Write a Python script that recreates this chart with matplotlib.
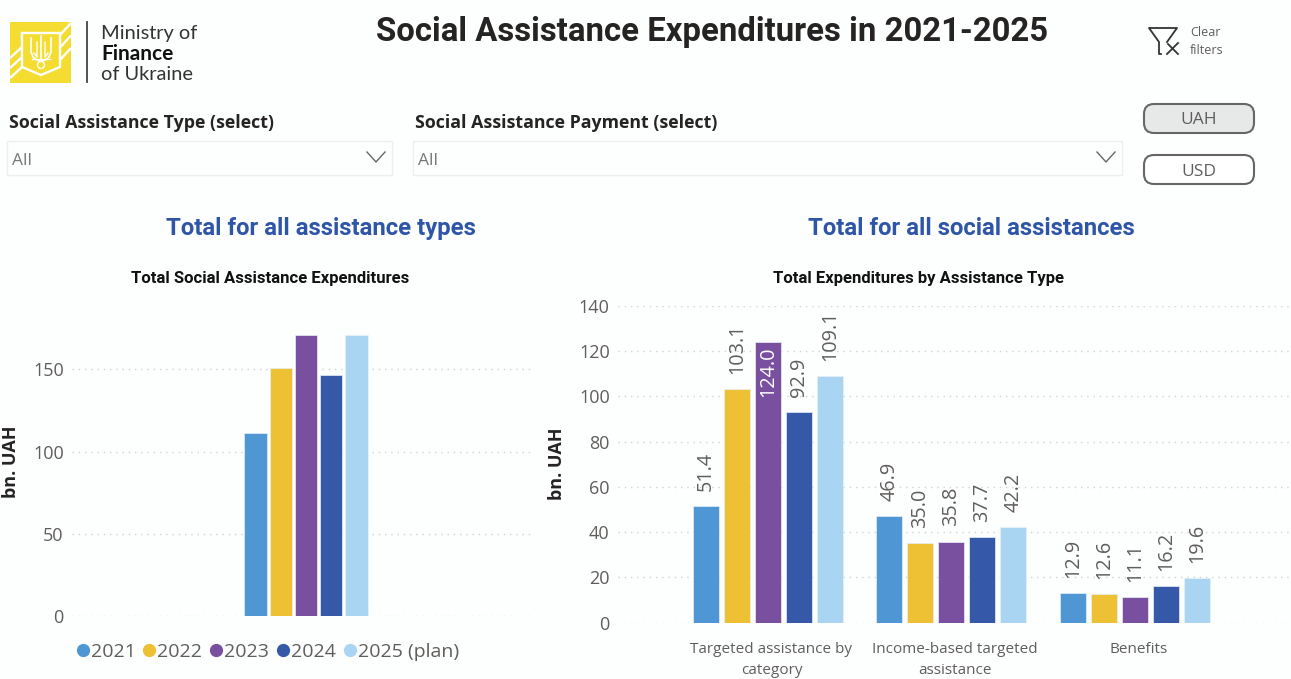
import matplotlib
matplotlib.use('Agg')
import matplotlib.pyplot as plt
from matplotlib.lines import Line2D
from matplotlib.patches import Circle, FancyBboxPatch, Polygon, Rectangle

W, H = 1291, 679

years = ['2021', '2022', '2023', '2024', '2025 (plan)']
colors = ['#4E96D4', '#EEC033', '#78509F', '#3559A8', '#A9D5F2']

totals = [111.2, 150.7, 170.9, 146.8, 170.9]

types = ['Targeted assistance by\ncategory', 'Income-based targeted\nassistance', 'Benefits']
targeted = [51.4, 103.1, 124.0, 92.9, 109.1]
income = [46.9, 35.0, 35.8, 37.7, 42.2]
benefits = [12.9, 12.6, 11.1, 16.2, 19.6]

left_ticks = [0, 50, 100, 150]
right_ticks = [0, 20, 40, 60, 80, 100, 120, 140]

plt.rcParams['font.family'] = ['Open Sans', 'DejaVu Sans']
TEXT = '#605E5C'
DARK = '#252423'
BLUE = '#2F55A8'
GRID = '#D2D2D2'


def add_axes_px(fig, x0, x1, y_top, y_bottom):
    return fig.add_axes([x0 / W, 1 - y_bottom / H, (x1 - x0) / W, (y_bottom - y_top) / H])


def style_axes(ax, ticks):
    for s in ax.spines.values():
        s.set_visible(False)
    ax.set_yticks(ticks)
    ax.tick_params(axis='y', length=0, labelsize=13, labelcolor=TEXT, pad=6)
    ax.tick_params(axis='x', length=0)
    ax.grid(axis='y', color=GRID, linestyle=(0, (1, 3.5)), linewidth=1)
    ax.set_axisbelow(True)
    ax.patch.set_alpha(0)


fig = plt.figure(figsize=(W / 100, H / 100), dpi=100, facecolor='#FDFEFE')

# header, slicers and buttons are laid out in pixel coordinates
ui = fig.add_axes([0, 0, 1, 1])
ui.set_xlim(0, W)
ui.set_ylim(H, 0)
ui.axis('off')

# logo: yellow square, stripes, shield and trident
ui.add_patch(Rectangle((10, 22), 61, 61, color='#F5DC30', lw=0))
for off in [0, 10, 20]:
    ui.plot([10, 22], [58 + off, 47 + off], color='white', lw=1.7, solid_capstyle='butt')
for off in [0, 12.5, 25]:
    ui.plot([60, 71], [35 + off, 23 + off], color='white', lw=1.7, solid_capstyle='butt')
ui.add_patch(Polygon([(22, 33), (60, 33), (60, 67), (41, 75), (22, 67)], closed=True,
                     fc='#F5DC30', ec='white', lw=1.7))
ui.plot([41, 41], [36, 61], color='white', lw=1.2)
for side in [-1, 1]:
    ui.plot([41 + side * 10, 41 + side * 10, 41 + side * 8, 41 + side * 4, 41 + side * 1],
            [38, 52, 57, 60, 61], color='white', lw=1.2)
    ui.plot([41 + side * 4, 41 + side * 4, 41 + side * 7], [42, 57, 53], color='white', lw=1)
ui.plot([32, 50], [59, 59], color='white', lw=1)
ui.add_patch(Circle((41, 65), 3.5, fc='none', ec='white', lw=1))
ui.plot([87, 87], [22, 82], color='#444444', lw=1.3)
ui.text(101, 33, 'Ministry of', fontsize=14.4, color='#333333', va='center', family='Lato')
ui.text(101, 54, 'Finance', fontsize=15, color='#111111', va='center', family='Lato', weight='bold')
ui.text(101, 74, 'of Ukraine', fontsize=14.4, color='#333333', va='center', family='Lato')

ui.text(712, 32, 'Social Assistance Expenditures in 2021-2025', fontsize=23.7, weight='bold',
        color=DARK, ha='center', va='center', family='Roboto')

# clear filters icon
ui.plot([1161, 1159, 1159, 1149, 1177, 1167], [54, 54, 42, 28, 28, 42], color='#333333', lw=1.3)
ui.plot([1168, 1178], [44, 54], color='#333333', lw=1.3)
ui.plot([1178, 1167], [43, 54], color='#333333', lw=1.3)
ui.text(1190, 33, 'Clear', fontsize=9, color=TEXT, va='center')
ui.text(1190, 50, 'filters', fontsize=9, color=TEXT, va='center')

# slicers
ui.text(9, 123, 'Social Assistance Type (select)', fontsize=12.8, weight='bold', color=DARK, va='center')
ui.text(415, 123, 'Social Assistance Payment (select)', fontsize=12.8, weight='bold', color=DARK, va='center')
for x0, x1 in [(7, 392), (413, 1122)]:
    ui.add_patch(Rectangle((x0, 141), x1 - x0, 34, fc='none', ec='#ECEFEF', lw=1))
    ui.text(x0 + 5, 161, 'All', fontsize=12.5, color='#777777', va='center')
    ui.plot([x1 - 25, x1 - 16, x1 - 7], [152, 162, 152], color='#666666', lw=1)

# currency buttons
for y0, label, fc in [(104, 'UAH', '#E7E9E9'), (155, 'USD', 'white')]:
    ui.add_patch(FancyBboxPatch((1144, y0), 110, 29, boxstyle='round,pad=0,rounding_size=10',
                                fc=fc, ec='#666666', lw=1.5))
    ui.text(1199, y0 + 16.5, label, fontsize=12.5, color=TEXT, ha='center', va='center')

ui.text(321, 228, 'Total for all assistance types', fontsize=17.2, weight='bold', color=BLUE,
        ha='center', va='center', family='Roboto')
ui.text(971, 228.5, 'Total for all social assistances', fontsize=17.2, weight='bold', color=BLUE,
        ha='center', va='center', family='Roboto')
ui.text(270, 278, 'Total Social Assistance Expenditures', fontsize=12, weight='bold', color='#111111',
        ha='center', va='center', family='Roboto')
ui.text(918.5, 278, 'Total Expenditures by Assistance Type', fontsize=12, weight='bold', color='#111111',
        ha='center', va='center', family='Roboto')

# left chart, one group of five bars
ax1 = add_axes_px(fig, 72, 535, 335, 616)
style_axes(ax1, left_ticks)
for i, v in enumerate(totals):
    ax1.bar(i - 2, v, width=0.89, color=colors[i], edgecolor='#E8F0F8', linewidth=0.5, zorder=2)
ax1.set_xlim(-9.29, 9.09)
ax1.set_ylim(0, 170.9)
ax1.set_xticks([])
ax1.set_ylabel('bn. UAH', fontsize=13, weight='bold', color=DARK)
ax1.yaxis.set_label_coords((20 - 72) / 463, 0.55)

# legend under the left chart
handles = [Line2D([], [], linestyle='none', marker='o', markersize=8.5, color=c) for c in colors]
fig.legend(handles, years, loc='center left', bbox_to_anchor=(77 / W, 1 - 652 / H), ncol=5, frameon=False,
           fontsize=14, labelcolor=TEXT, handlelength=0.6, handletextpad=0.11, columnspacing=0.41,
           borderpad=0, borderaxespad=0)

# right chart, grouped bars with rotated value labels
ax2 = add_axes_px(fig, 618, 1290, 306, 622.5)
style_axes(ax2, right_ticks)
step = 31 / 183.5
for g, vals in enumerate([targeted, income, benefits]):
    for i, v in enumerate(vals):
        xpos = g + (i - 2) * step
        ax2.bar(xpos, v, width=26 / 183.5, color=colors[i], edgecolor='#E8F0F8', linewidth=0.5, zorder=2)
        if v > 120:
            ax2.annotate(f'{v:.1f}', (xpos, v), xytext=(0, -3), textcoords='offset points', rotation=90,
                         ha='center', va='top', fontsize=14.3, color='white', zorder=3)
        else:
            ax2.annotate(f'{v:.1f}', (xpos, v), xytext=(0, 11), textcoords='offset points', rotation=90,
                         ha='center', va='bottom', fontsize=14.3, color=TEXT, zorder=3)
ax2.set_xlim(-0.817, 2.845)
ax2.set_ylim(0, 140)
ax2.set_xticks([g + 0.019 for g in range(3)])
ax2.set_xticklabels(types, fontsize=11, color=TEXT, linespacing=1.55)
ax2.tick_params(axis='x', pad=14)
ax2.set_ylabel('bn. UAH', fontsize=13, weight='bold', color=DARK)
ax2.yaxis.set_label_coords((566 - 618) / 672, 0.50)

fig.savefig('out.png', dpi=100, facecolor=fig.get_facecolor())
